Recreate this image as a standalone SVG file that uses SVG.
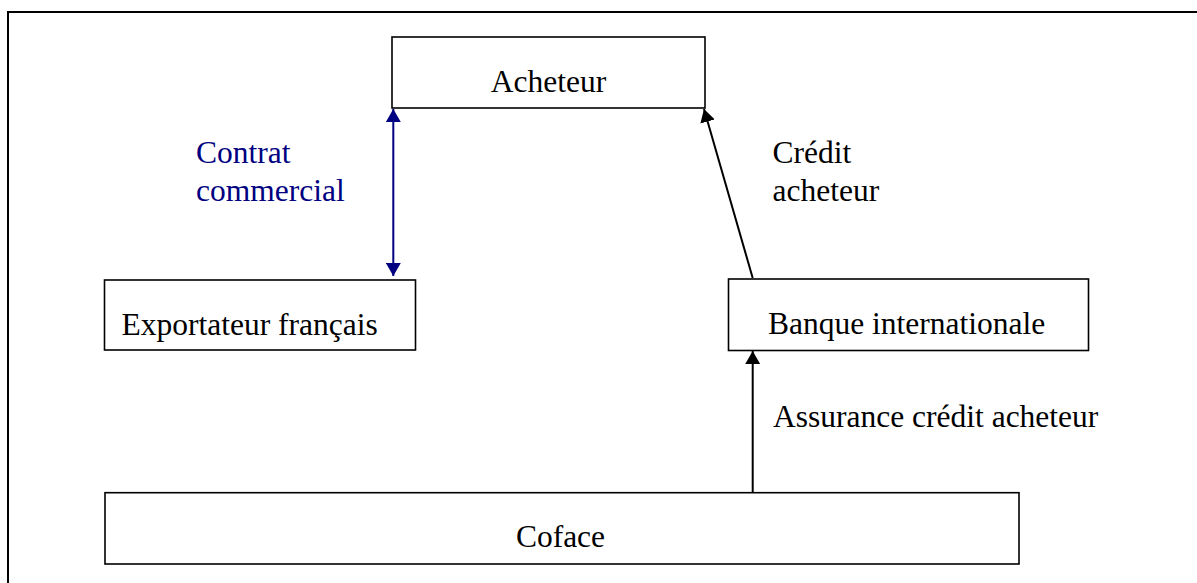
<svg xmlns="http://www.w3.org/2000/svg" width="1197" height="583" viewBox="0 0 1197 583">
<style>
.box{fill:#fff;stroke:#000;stroke-width:1.6}
.t{font-family:"Liberation Serif","Times New Roman",serif;font-size:31.5px;fill:#000}
.blue{fill:#000080}
.frame{fill:none;stroke:#000;stroke-width:2}
</style>
<defs>
<marker id="hb" viewBox="0 0 13 15" refX="13" refY="7.5" markerWidth="13" markerHeight="15" markerUnits="userSpaceOnUse" orient="auto-start-reverse">
<path d="M0,0 L13,7.5 L0,15 Z" fill="#000080"/>
</marker>
<marker id="hk" viewBox="0 0 13 15" refX="13" refY="7.5" markerWidth="13" markerHeight="15" markerUnits="userSpaceOnUse" orient="auto">
<path d="M0,0 L13,7.5 L0,15 Z" fill="#000"/>
</marker>
</defs>
<rect width="1197" height="583" fill="#fff"/>
<path class="frame" d="M8,583 L8,12 L1197,12"/>
<g id="acheteur"><rect class="box" x="392" y="37" width="313" height="71"/><text class="t" x="548.5" y="92" text-anchor="middle">Acheteur</text></g>
<g id="exportateur"><rect class="box" x="104.5" y="280" width="311" height="70"/><text class="t" x="121.5" y="335">Exportateur français</text></g>
<g id="banque"><rect class="box" x="728.5" y="279" width="360" height="71.5"/><text class="t" x="768" y="334">Banque internationale</text></g>
<g id="coface"><rect class="box" x="105" y="492.7" width="914" height="71.3"/><text class="t" x="560.5" y="547.3" text-anchor="middle">Coface</text></g>
<g id="connectors">
<line x1="393.3" y1="109" x2="393.3" y2="276" stroke="#000080" stroke-width="2" marker-start="url(#hb)" marker-end="url(#hb)"/>
<line x1="752.7" y1="278" x2="704" y2="109" stroke="#000" stroke-width="2" marker-end="url(#hk)"/>
<line x1="752.7" y1="492.7" x2="752.7" y2="351" stroke="#000" stroke-width="2" marker-end="url(#hk)"/>
</g>
<g id="labels">
<text class="t blue" x="196" y="163">Contrat</text>
<text class="t blue" x="196" y="201">commercial</text>
<text class="t" x="772.5" y="163">Crédit</text>
<text class="t" x="772.5" y="200.7">acheteur</text>
<text class="t" x="773" y="426.7">Assurance crédit acheteur</text>
</g>
</svg>
